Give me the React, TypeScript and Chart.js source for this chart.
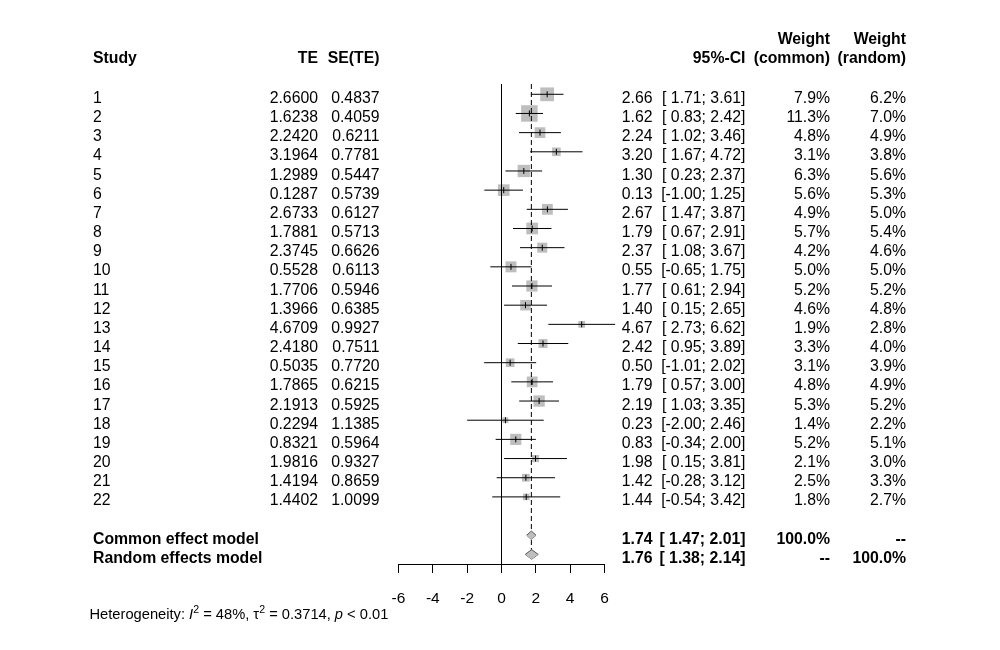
import React, { useEffect, useRef } from "react";
import { Chart, registerables } from "chart.js";

Chart.register(...registerables);

// ---------------- data ----------------
const studyLabels = ["1", "2", "3", "4", "5", "6", "7", "8", "9", "10", "11", "12", "13", "14", "15", "16", "17", "18", "19", "20", "21", "22"];
const teValues = [2.66, 1.6238, 2.242, 3.1964, 1.2989, 0.1287, 2.6733, 1.7881, 2.3745, 0.5528, 1.7706, 1.3966, 4.6709, 2.418, 0.5035, 1.7865, 2.1913, 0.2294, 0.8321, 1.9816, 1.4194, 1.4402];
const seValues = [0.4837, 0.4059, 0.6211, 0.7781, 0.5447, 0.5739, 0.6127, 0.5713, 0.6626, 0.6113, 0.5946, 0.6385, 0.9927, 0.7511, 0.772, 0.6215, 0.5925, 1.1385, 0.5964, 0.9327, 0.8659, 1.0099];
const ciLower = [1.71, 0.83, 1.02, 1.67, 0.23, -1.0, 1.47, 0.67, 1.08, -0.65, 0.61, 0.15, 2.73, 0.95, -1.01, 0.57, 1.03, -2.0, -0.34, 0.15, -0.28, -0.54];
const ciUpper = [3.61, 2.42, 3.46, 4.72, 2.37, 1.25, 3.87, 2.91, 3.67, 1.75, 2.94, 2.65, 6.62, 3.89, 2.02, 3.0, 3.35, 2.46, 2.0, 3.81, 3.12, 3.42];
const weightCommon = [7.9, 11.3, 4.8, 3.1, 6.3, 5.6, 4.9, 5.7, 4.2, 5.0, 5.2, 4.6, 1.9, 3.3, 3.1, 4.8, 5.3, 1.4, 5.2, 2.1, 2.5, 1.8];
const weightRandom = [6.2, 7.0, 4.9, 3.8, 5.6, 5.3, 5.0, 5.4, 4.6, 5.0, 5.2, 4.8, 2.8, 4.0, 3.9, 4.9, 5.2, 2.2, 5.1, 3.0, 3.3, 2.7];

const summaryLabels = ["Common effect model", "Random effects model"];
const summaryEstimate = [1.74, 1.76];
const summaryLower = [1.47, 1.38];
const summaryUpper = [2.01, 2.14];
const summaryWeightCommon = ["100.0%", "--"];
const summaryWeightRandom = ["--", "100.0%"];

const xTickValues = [-6, -4, -2, 0, 2, 4, 6];
const heterogeneityI2 = "48%";
const heterogeneityTau2 = "0.3714";
const heterogeneityP = "< 0.01";

// ---------------- layout / style ----------------
const FAMILY = '"Liberation Sans", Arial, "DejaVu Sans", sans-serif';
const FONT_SIZE = 15.8;
const Y_MIN = 0.463;
const Y_MAX = 25.5;
const TEXT_OFFSET = 8.6;
const HEADER_OFFSET = 7.2;
const SQUARE_SCALE = 4.9;
const GREY = "#BEBEBE";

const COL_STUDY_L = 93;
const COL_TE_R = 318;
const COL_SE_R = 379.5;
const COL_EST_R = 652.5;
const COL_CI_R = 745.5;
const COL_WC_R = 830;
const COL_WR_R = 906;

const fmtCI = (lo: number, hi: number) =>
  `[${lo < 0 ? "" : " "}${lo.toFixed(2)}; ${hi.toFixed(2)}]`;

function buildDatasets() {
  const ds: any[] = [];
  const n = teValues.length;

  // squares
  ds.push({
    type: "scatter",
    label: "squares",
    data: teValues.map((v, i) => ({ x: v, y: i + 1 })),
    pointStyle: "rect",
    pointRadius: weightCommon.map((w) => (SQUARE_SCALE * Math.sqrt(w)) / Math.SQRT2),
    pointHoverRadius: weightCommon.map((w) => (SQUARE_SCALE * Math.sqrt(w)) / Math.SQRT2),
    backgroundColor: GREY,
    borderColor: GREY,
    borderWidth: 0,
    clip: false,
    order: 20,
  });

  // zero line
  ds.push({
    type: "line",
    label: "zero",
    data: [
      { x: 0, y: Y_MIN },
      { x: 0, y: Y_MAX },
    ],
    borderColor: "#000",
    borderWidth: 1,
    pointRadius: 0,
    fill: false,
    order: 15,
  });

  // common effect dashed line
  ds.push({
    type: "line",
    label: "common line",
    data: [
      { x: summaryEstimate[0], y: Y_MIN },
      { x: summaryEstimate[0], y: 25 },
    ],
    borderColor: "#000",
    borderWidth: 1,
    borderDash: [5, 3],
    pointRadius: 0,
    fill: false,
    order: 14,
  });

  // confidence intervals
  for (let i = 0; i < n; i++) {
    ds.push({
      type: "line",
      label: "ci" + studyLabels[i],
      data: [
        { x: ciLower[i], y: i + 1 },
        { x: ciUpper[i], y: i + 1 },
      ],
      borderColor: "#000",
      borderWidth: 1,
      pointRadius: 0,
      fill: false,
      clip: false,
      order: 10,
    });
  }

  // estimate ticks
  ds.push({
    type: "scatter",
    label: "ticks",
    data: teValues.map((v, i) => ({ x: v, y: i + 1 })),
    pointStyle: "line",
    rotation: 90,
    pointRadius: 3,
    pointHoverRadius: 3,
    borderColor: "#000",
    borderWidth: 1,
    clip: false,
    order: 5,
  });

  // diamonds
  const halfH = [0.22, 0.25];
  for (let j = 0; j < 2; j++) {
    const r = 24 + j;
    ds.push({
      type: "line",
      label: "diamond-up" + j,
      data: [
        { x: summaryLower[j], y: r },
        { x: summaryEstimate[j], y: r - halfH[j] },
        { x: summaryUpper[j], y: r },
      ],
      borderColor: "#555",
      borderWidth: 1,
      backgroundColor: GREY,
      pointRadius: 0,
      tension: 0,
      fill: "+1",
      order: 1,
    });
    ds.push({
      type: "line",
      label: "diamond-down" + j,
      data: [
        { x: summaryLower[j], y: r },
        { x: summaryEstimate[j], y: r + halfH[j] },
        { x: summaryUpper[j], y: r },
      ],
      borderColor: "#555",
      borderWidth: 1,
      backgroundColor: GREY,
      pointRadius: 0,
      tension: 0,
      fill: false,
      order: 1,
    });
  }
  return ds;
}

const textPlugin = {
  id: "forestText",
  afterDraw(chart: any) {
    const ctx: CanvasRenderingContext2D = chart.ctx;
    const ys = chart.scales.y;
    const base = (r: number) => ys.getPixelForValue(r) + TEXT_OFFSET;
    const hbase = (r: number) => ys.getPixelForValue(r) + HEADER_OFFSET;
    ctx.save();
    ctx.fillStyle = "#000";
    ctx.textBaseline = "alphabetic";
    const put = (s: string, x: number, y: number, align: CanvasTextAlign, bold = false) => {
      ctx.font = `${bold ? "bold " : ""}${FONT_SIZE}px ${FAMILY}`;
      ctx.textAlign = align;
      ctx.fillText(s, x, y);
    };

    // header
    put("Weight", COL_WC_R, hbase(-2), "right", true);
    put("Weight", COL_WR_R, hbase(-2), "right", true);
    put("Study", COL_STUDY_L, hbase(-1), "left", true);
    put("TE", COL_TE_R, hbase(-1), "right", true);
    put("SE(TE)", COL_SE_R, hbase(-1), "right", true);
    put("95%-CI", COL_CI_R, hbase(-1), "right", true);
    put("(common)", COL_WC_R, hbase(-1), "right", true);
    put("(random)", COL_WR_R, hbase(-1), "right", true);

    // studies
    for (let i = 0; i < studyLabels.length; i++) {
      const y = base(i + 1);
      put(studyLabels[i], COL_STUDY_L, y, "left");
      put(teValues[i].toFixed(4), COL_TE_R, y, "right");
      put(seValues[i].toFixed(4), COL_SE_R, y, "right");
      put(teValues[i].toFixed(2), COL_EST_R, y, "right");
      put(fmtCI(ciLower[i], ciUpper[i]), COL_CI_R, y, "right");
      put(weightCommon[i].toFixed(1) + "%", COL_WC_R, y, "right");
      put(weightRandom[i].toFixed(1) + "%", COL_WR_R, y, "right");
    }

    // summaries
    for (let j = 0; j < summaryLabels.length; j++) {
      const y = base(24 + j);
      put(summaryLabels[j], COL_STUDY_L, y, "left", true);
      put(summaryEstimate[j].toFixed(2), COL_EST_R, y, "right", true);
      put(fmtCI(summaryLower[j], summaryUpper[j]), COL_CI_R, y, "right", true);
      put(summaryWeightCommon[j], COL_WC_R, y, "right", true);
      put(summaryWeightRandom[j], COL_WR_R, y, "right", true);
    }

    // heterogeneity
    const size = 14.7;
    let x = 89.5;
    const yb = chart.chartArea.bottom + 55;
    ctx.textAlign = "left";
    const seg = (t: string, style: string, dy = 0, sz = size) => {
      ctx.font = `${style} ${sz}px ${FAMILY}`;
      ctx.fillText(t, x, yb + dy);
      x += ctx.measureText(t).width;
    };
    seg("Heterogeneity: ", "normal");
    seg("I", "italic");
    seg("2", "normal", -6, size * 0.72);
    seg(` = ${heterogeneityI2}, `, "normal");
    seg("\u03C4", "normal");
    seg("2", "normal", -6, size * 0.72);
    seg(` = ${heterogeneityTau2}, `, "normal");
    seg("p", "italic");
    seg(` ${heterogeneityP}`, "normal");

    ctx.restore();
  },
};

export default function App() {
  const canvasRef = useRef<HTMLCanvasElement>(null);

  useEffect(() => {
    const canvas = canvasRef.current;
    if (!canvas) return;
    const chart = new Chart(canvas, {
      type: "scatter",
      data: { datasets: buildDatasets() },
      options: {
        responsive: false,
        animation: false,
        devicePixelRatio: 1,
        layout: { padding: { left: 398.5, right: 395.5, top: 84, bottom: 0 } },
        plugins: {
          legend: { display: false },
          tooltip: { enabled: false },
        },
        events: [],
        scales: {
          x: {
            type: "linear",
            position: "bottom",
            min: -6,
            max: 6,
            afterFit: (s: any) => {
              s.height = 86;
            },
            afterBuildTicks: (s: any) => {
              s.ticks = xTickValues.map((v) => ({ value: v }));
            },
            ticks: {
              color: "#000",
              font: { family: FAMILY, size: 15.5 },
              padding: 16,
              autoSkip: false,
              maxRotation: 0,
              minRotation: 0,
            },
            grid: {
              drawOnChartArea: false,
              drawTicks: true,
              tickLength: 9,
              color: "#000",
              lineWidth: 1,
            },
            border: { display: true, color: "#000", width: 1 },
          },
          y: {
            type: "linear",
            reverse: true,
            min: Y_MIN,
            max: Y_MAX,
            display: false,
          },
        },
      } as any,
      plugins: [textPlugin],
    });
    return () => chart.destroy();
  }, []);

  return (
    <div style={{ position: "fixed", left: 0, top: 0, width: 1000, height: 650, background: "#fff" }}>
      <canvas ref={canvasRef} width={1000} height={650} style={{ display: "block", width: 1000, height: 650 }} />
    </div>
  );
}
